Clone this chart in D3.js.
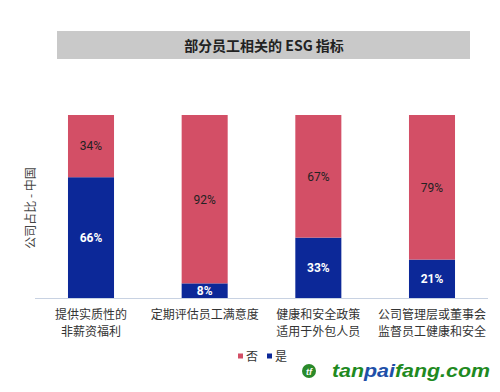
<!DOCTYPE html>
<html><head><meta charset="utf-8">
<script src="https://cdn.jsdelivr.net/npm/d3@7"></script>
<style>body{margin:0;background:#fff}svg{display:block}</style>
</head><body>
<svg id="chart" width="500" height="392"></svg>
<script>
const title = "部分员工相关的 ESG 指标";
const categories = [["提供实质性的","非薪资福利"],["定期评估员工满意度"],["健康和安全政策","适用于外包人员"],["公司管理层或董事会","监督员工健康和安全"]];
const yesValues = [66, 8, 33, 21];
const noValues = [34, 92, 67, 79];
const seriesNames = ["否", "是"];
const yLabel = "公司占比 - 中国";
const colors = {no:"#d34f66", yes:"#0c2898"};

const svg = d3.select("#chart");
const font = "'Noto Sans CJK SC','Noto Sans',sans-serif";

// title bar
svg.append("rect").attr("x",57).attr("y",31).attr("width",413).attr("height",28).attr("fill","#c9c9c9");
svg.append("text").attr("x",264).attr("y",50.5).attr("text-anchor","middle")
  .attr("font-family",font).attr("font-weight","bold").attr("font-size",14).attr("fill","#222").text(title);

const idx = categories.map((d,i)=>i);
const x = d3.scaleBand().domain(idx).range([34,489]).paddingInner(0.595).paddingOuter(0.299);
const y = d3.scaleLinear().domain([0,100]).range([298,115]);

const stackData = idx.map(i=>({i, yes:yesValues[i], no:noValues[i]}));
const stack = d3.stack().keys(["yes","no"])(stackData);

const g = svg.append("g");
stack.forEach(layer=>{
  g.selectAll(null).data(layer).join("rect")
    .attr("x",d=>x(d.data.i)).attr("width",x.bandwidth())
    .attr("y",d=>y(d[1])).attr("height",d=>y(d[0])-y(d[1]))
    .attr("fill",colors[layer.key]);
  g.selectAll(null).data(layer).join("text")
    .attr("x",d=>x(d.data.i)+x.bandwidth()/2)
    .attr("y",d=>(y(d[0])+y(d[1]))/2)
    .attr("dy","0.36em").attr("text-anchor","middle")
    .attr("font-family","Roboto,'Noto Sans',sans-serif").attr("font-size",12)
    .attr("font-weight",layer.key==="yes"?"bold":"normal")
    .attr("fill",layer.key==="yes"?"#fff":"#222")
    .text(d=>d.data[layer.key]+"%");
});

// baseline axis
const xAxis = d3.axisBottom(x).tickSize(0).tickFormat("");
const ax = svg.append("g").attr("transform","translate(0,298.5)").call(xAxis);
ax.select(".domain").attr("stroke","#c8d2e2").attr("stroke-width",1.2).attr("d","M35,0H488");

// category labels
idx.forEach(i=>{
  const t = svg.append("text").attr("text-anchor","middle")
    .attr("font-family",font).attr("font-size",12).attr("fill","#333");
  categories[i].forEach((line,k)=>{
    t.append("tspan").attr("x",x(i)+x.bandwidth()/2).attr("y",318.5+k*17).text(line);
  });
});

// y label
svg.append("text").attr("transform","translate(35,208) rotate(-90)").attr("text-anchor","middle")
  .attr("font-family",font).attr("font-size",12).attr("fill","#444").text(yLabel);

// legend
const legend = [{name:seriesNames[0],c:colors.no,x:238},{name:seriesNames[1],c:colors.yes,x:267}];
legend.forEach(l=>{
  svg.append("rect").attr("x",l.x).attr("y",353.5).attr("width",5).attr("height",5).attr("fill",l.c);
  svg.append("text").attr("x",l.x+8).attr("y",360.5).attr("font-family",font).attr("font-size",12)
    .attr("fill","#333").text(l.name);
});

// watermark
svg.append("circle").attr("cx",309).attr("cy",371).attr("r",7).attr("fill","#2a8a2a");
svg.append("text").attr("x",309).attr("y",374.5).attr("text-anchor","middle").attr("font-family","Liberation Sans")
  .attr("font-weight","bold").attr("font-style","italic").attr("font-size",9).attr("fill","#fff").text("tf");
const wm = svg.append("text").attr("x",332).attr("y",377).attr("font-family","'Liberation Sans',Arial,sans-serif")
  .attr("font-weight","bold").attr("font-style","italic").attr("font-size",19).attr("textLength",158).attr("lengthAdjust","spacingAndGlyphs");
wm.append("tspan").attr("fill","#1f8a1f").text("tan");
wm.append("tspan").attr("fill","#1e4fa8").text("pai");
wm.append("tspan").attr("fill","#1f8a1f").text("fang.com");
</script>
</body></html>
